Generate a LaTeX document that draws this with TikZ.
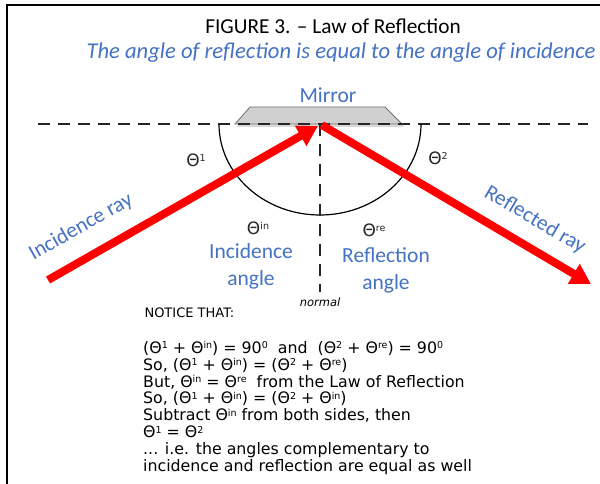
\documentclass[tikz,border=0pt]{standalone}
\usepackage{fontspec}
\setmainfont{Carlito}
\newfontfamily\vfont{DejaVu Sans}
\usetikzlibrary{arrows.meta}
\definecolor{oblue}{RGB}{68,114,196}
\definecolor{mirgray}{RGB}{208,208,208}
\newcommand\myup[1]{\raisebox{0.5ex}{\fontsize{9.5}{9.5}\selectfont #1}}
\tikzset{
  ray/.style={line width=8pt, red, -{Triangle[length=20pt,width=22pt]}},
  dashline/.style={line width=1.8pt, draw=black!85, dash pattern=on 12pt off 8pt},
  bluelbl/.style={text=oblue, font=\fontsize{21.5}{26}\selectfont},
  thlbl/.style={font=\vfont\fontsize{17}{18}\selectfont, text=black!85},
}
\begin{document}
\begin{tikzpicture}[x=1pt,y=-1pt]
\useasboundingbox (0,0) rectangle (600,484);
\fill[white] (0,0) rectangle (600,484);
% frame
\draw[line width=1.2pt] (7,484) -- (7,5) -- (600,5);
% titles
\node[font=\fontsize{21.3}{24}\selectfont] (title) at (333,26) {FIGURE 3. – Law of Reflection};
\node[font=\itshape\fontsize{22.6}{24}\selectfont, text=oblue] (sub) at (341,53) {The angle of reflection is equal to the angle of incidence};
\node[bluelbl] (mirlbl) at (328,95) {Mirror};
% mirror
\fill[black!15] (237,127) -- (252,110) -- (387,110) -- (404,127) -- cycle;
\filldraw[fill=mirgray, draw=black!55, line width=0.8pt] (235,124) -- (250,107) -- (385,107) -- (402,124) -- cycle;
% coordinates
\coordinate (hit) at (320,124);
\coordinate (ml) at (38,124);
\coordinate (mr) at (588,124);
\coordinate (nb) at (320,292);
\coordinate (inS) at (48,280);
\coordinate (outE) at (591,284);
\coordinate (arcL) at (219,124);
% mirror dashed line
\draw[dashline] (ml) -- (mr);
% semicircle
\draw[line width=1.2pt] (arcL) arc[start angle=180, end angle=360, x radius=101pt, y radius=91pt];
% normal
\draw[dashline] (hit) -- (nb);
% rays
\draw[ray] (inS) -- (318,126);
\draw[ray, shorten <=2pt] (hit) -- (outE);
% theta labels
\node[thlbl] (t1) at (196,160) {Θ\myup{1}};
\node[thlbl] (t2) at (438,158) {Θ\myup{2}};
\node[thlbl] (tin) at (258,228) {Θ\myup{in}};
\node[thlbl] (tre) at (374,230) {Θ\myup{re}};
% angle labels
\node[bluelbl, align=center] (ia) at (251,266) {Incidence\\[1pt]angle};
\node[bluelbl, align=center] (ra) at (386,270) {Reflection\\[1pt]angle};
\node[font=\vfont\itshape\fontsize{11.5}{12}\selectfont] (nrm) at (320,302) {normal};
% ray labels
\node[bluelbl, rotate=29.5] (irl) at (81,227) {Incidence ray};
\node[bluelbl, rotate=-30.5] (rrl) at (535,220) {Reflected ray};
% notice text
\node[anchor=west, font=\vfont\fontsize{13}{17}\selectfont] (notice) at (141,313) {NOTICE THAT:};
\node[anchor=north west, align=left, font=\vfont\fontsize{15.8}{16.9}\selectfont, inner sep=0pt] (body) at (143,341) {%
(Θ\myup{1} + Θ\myup{in}) = 90\myup{0}\ \ and\ \ (Θ\myup{2} + Θ\myup{re}) = 90\myup{0}\\
So, (Θ\myup{1} + Θ\myup{in}) = (Θ\myup{2} + Θ\myup{re})\\
But, Θ\myup{in} = Θ\myup{re}\ \ from the Law of Reflection\\
So, (Θ\myup{1} + Θ\myup{in}) = (Θ\myup{2} + Θ\myup{in})\\
Subtract Θ\myup{in} from both sides, then\\
Θ\myup{1} = Θ\myup{2}\\
... i.e. the angles complementary to\\
incidence and reflection are equal as well};
\end{tikzpicture}
\end{document}
